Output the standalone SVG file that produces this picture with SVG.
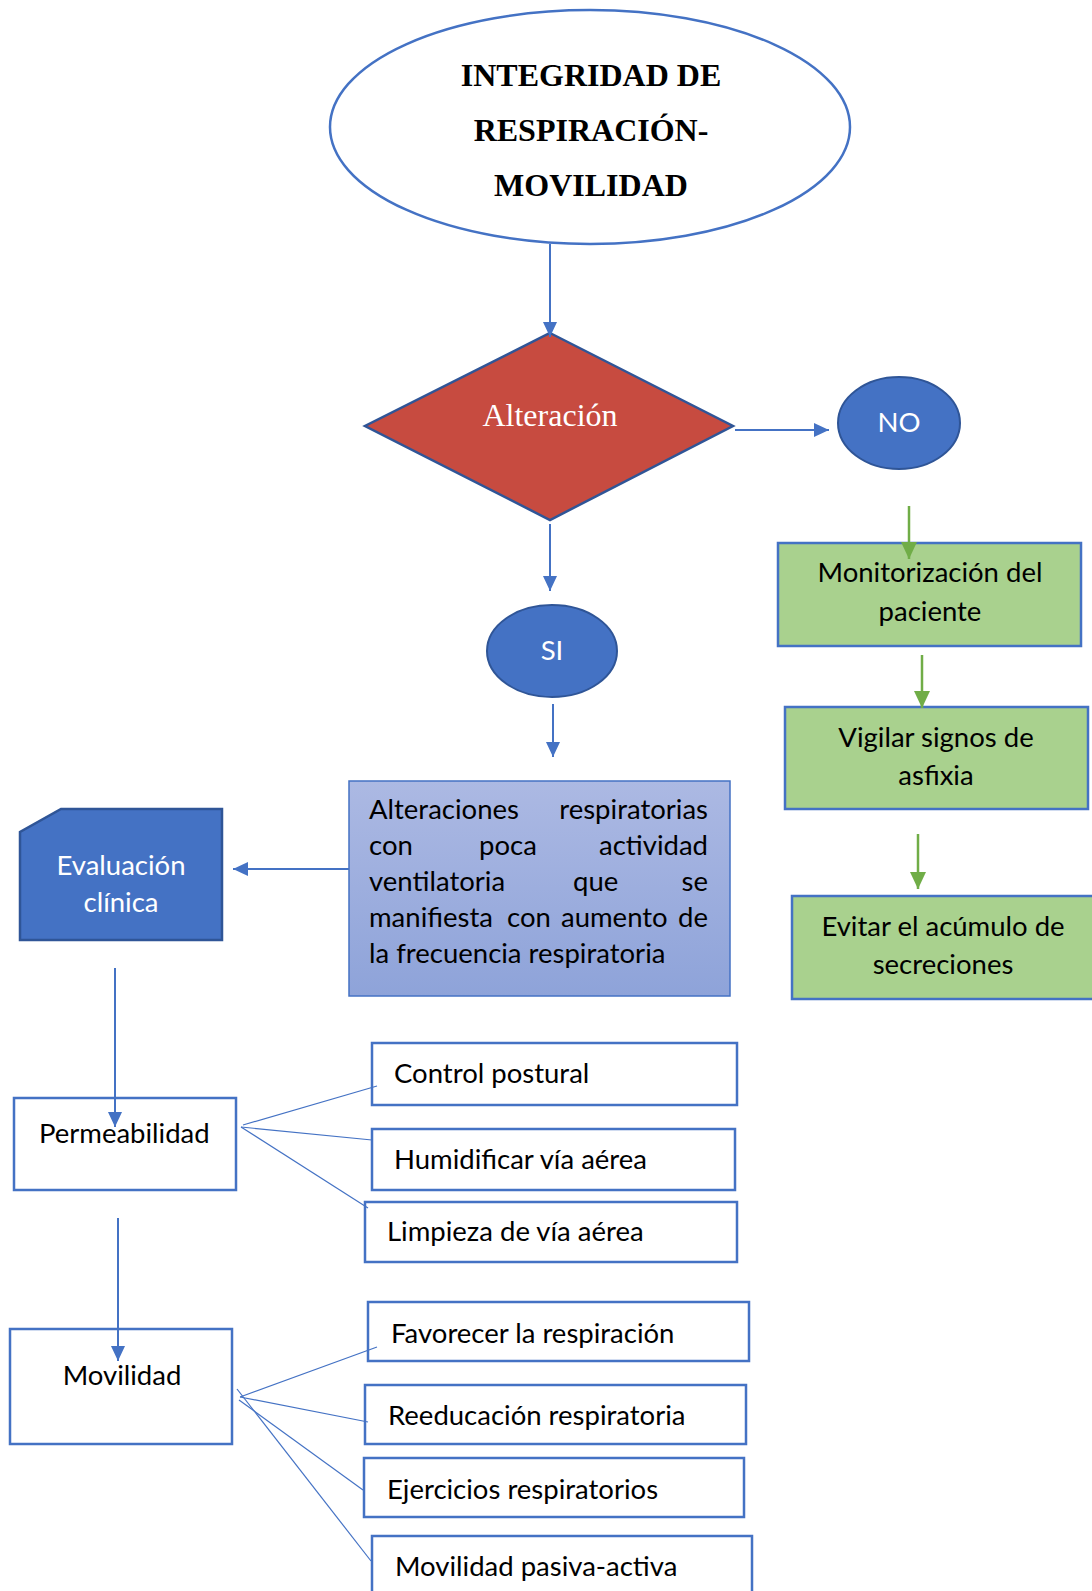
<svg xmlns="http://www.w3.org/2000/svg" width="1092" height="1591" viewBox="0 0 1092 1591">
<defs>
<style>
.t{font-family:Lato,"Liberation Sans",sans-serif;font-size:27.5px;fill:#000}
.w{font-family:Lato,"Liberation Sans",sans-serif;font-size:27.5px;fill:#fff}
.box{fill:#fff;stroke:#4472C4;stroke-width:2.5}
.gbox{fill:#A9D18E;stroke:#4472C4;stroke-width:2.5}
.arr{stroke:#4472C4;stroke-width:2;fill:none}
.garr{stroke:#70AD47;stroke-width:2.5;fill:none}
.fan{stroke:#4472C4;stroke-width:1.2;fill:none}
</style>
<marker id="ab" markerUnits="userSpaceOnUse" markerWidth="16" markerHeight="16" viewBox="0 0 16 16" refX="15" refY="8" orient="auto"><path d="M0,1 L15,8 L0,15 Z" fill="#4472C4"/></marker>
<marker id="ag" markerUnits="userSpaceOnUse" markerWidth="18" markerHeight="18" viewBox="0 0 18 18" refX="17" refY="9" orient="auto"><path d="M0,1 L17,9 L0,17 Z" fill="#70AD47"/></marker>
<linearGradient id="bg" x1="0" y1="0" x2="0" y2="1"><stop offset="0" stop-color="#ACB9E3"/><stop offset="1" stop-color="#8EA3D9"/></linearGradient>
</defs>
<rect width="1092" height="1591" fill="#fff"/>
<g id="title">
<ellipse cx="590" cy="127" rx="260" ry="117" fill="#fff" stroke="#4472C4" stroke-width="2.5"/>
<g font-family="'Liberation Serif',serif" font-weight="bold" font-size="32" text-anchor="middle">
<text x="591" y="86">INTEGRIDAD DE</text>
<text x="591" y="141">RESPIRACIÓN-</text>
<text x="591" y="196">MOVILIDAD</text>
</g>
</g>
<g id="alteracion">
<polygon points="550,333 733,426 550,520 365,426" fill="#C74B40" stroke="#2F5597" stroke-width="2.5"/>
<text x="550" y="426" font-family="'Liberation Serif',serif" font-size="32" fill="#fff" text-anchor="middle">Alteración</text>
</g>
<g id="no">
<ellipse cx="899" cy="423" rx="61" ry="46" fill="#4472C4" stroke="#2F5597" stroke-width="2"/>
<text class="w" x="899" y="432" text-anchor="middle">NO</text>
</g>
<g id="si">
<ellipse cx="552" cy="651" rx="65" ry="46" fill="#4472C4" stroke="#2F5597" stroke-width="2"/>
<text class="w" x="552" y="660" text-anchor="middle">SI</text>
</g>
<g id="alteraciones">
<rect x="349" y="781" width="381" height="215" fill="url(#bg)" stroke="#4472C4" stroke-width="1.5"/>
<text class="t" x="369" y="819">Alteraciones</text>
<text class="t" x="708" y="819" text-anchor="end">respiratorias</text>
<text class="t" x="369" y="855">con</text>
<text class="t" x="479" y="855">poca</text>
<text class="t" x="708" y="855" text-anchor="end">actividad</text>
<text class="t" x="369" y="891">ventilatoria</text>
<text class="t" x="573" y="891">que</text>
<text class="t" x="708" y="891" text-anchor="end">se</text>
<text class="t" x="369" y="927">manifiesta</text>
<text class="t" x="507" y="927">con</text>
<text class="t" x="561" y="927">aumento</text>
<text class="t" x="708" y="927" text-anchor="end">de</text>
<text class="t" x="369" y="963">la frecuencia respiratoria</text>
</g>
<g id="evaluacion">
<path d="M61,809 L222,809 L222,940 L20,940 L20,832 Z" fill="#4472C4" stroke="#2F5597" stroke-width="2.5"/>
<text class="w" x="121" y="875" text-anchor="middle">Evaluación</text>
<text class="w" x="121" y="912" text-anchor="middle">clínica</text>
</g>
<g id="monitorizacion">
<rect class="gbox" x="778" y="543" width="303" height="103"/>
<text class="t" x="930" y="582" text-anchor="middle">Monitorización del</text>
<text class="t" x="930" y="621" text-anchor="middle">paciente</text>
</g>
<g id="vigilar">
<rect class="gbox" x="785" y="707" width="303" height="102"/>
<text class="t" x="936" y="747" text-anchor="middle">Vigilar signos de</text>
<text class="t" x="936" y="785" text-anchor="middle">asfixia</text>
</g>
<g id="evitar">
<rect class="gbox" x="792" y="896" width="304" height="103"/>
<text class="t" x="943" y="936" text-anchor="middle">Evitar el acúmulo de</text>
<text class="t" x="943" y="974" text-anchor="middle">secreciones</text>
</g>
<g id="permeabilidad">
<rect class="box" x="14" y="1098" width="222" height="92"/>
<text class="t" x="39" y="1143">Permeabilidad</text>
</g>
<g id="movilidad">
<rect class="box" x="10" y="1329" width="222" height="115"/>
<text class="t" x="122" y="1385" text-anchor="middle">Movilidad</text>
</g>
<g id="control">
<rect class="box" x="372" y="1043" width="365" height="62"/>
<text class="t" x="394" y="1083">Control postural</text>
</g>
<g id="humidificar">
<rect class="box" x="372" y="1129" width="363" height="61"/>
<text class="t" x="394" y="1169">Humidificar vía aérea</text>
</g>
<g id="limpieza">
<rect class="box" x="365" y="1202" width="372" height="60"/>
<text class="t" x="387" y="1241">Limpieza de vía aérea</text>
</g>
<g id="favorecer">
<rect class="box" x="368" y="1302" width="381" height="59"/>
<text class="t" x="391" y="1343">Favorecer la respiración</text>
</g>
<g id="reeducacion">
<rect class="box" x="365" y="1385" width="381" height="59"/>
<text class="t" x="388" y="1425">Reeducación respiratoria</text>
</g>
<g id="ejercicios">
<rect class="box" x="364" y="1458" width="380" height="59"/>
<text class="t" x="387" y="1499">Ejercicios respiratorios</text>
</g>
<g id="pasiva">
<rect class="box" x="372" y="1536" width="380" height="70"/>
<text class="t" x="395" y="1576">Movilidad pasiva-activa</text>
</g>
<g id="connectors">
<line class="arr" x1="550" y1="244" x2="550" y2="337" marker-end="url(#ab)"/>
<line class="arr" x1="735" y1="430" x2="829" y2="430" marker-end="url(#ab)"/>
<line class="arr" x1="550" y1="524" x2="550" y2="591" marker-end="url(#ab)"/>
<line class="arr" x1="553" y1="704" x2="553" y2="757" marker-end="url(#ab)"/>
<line class="arr" x1="349" y1="869" x2="233" y2="869" marker-end="url(#ab)"/>
<line class="arr" x1="115" y1="968" x2="115" y2="1127" marker-end="url(#ab)"/>
<line class="arr" x1="118" y1="1218" x2="118" y2="1361" marker-end="url(#ab)"/>
<line class="garr" x1="909" y1="506" x2="909" y2="559" marker-end="url(#ag)"/>
<line class="garr" x1="922" y1="655" x2="922" y2="708" marker-end="url(#ag)"/>
<line class="garr" x1="918" y1="834" x2="918" y2="889" marker-end="url(#ag)"/>
<line class="fan" x1="243" y1="1125" x2="377" y2="1086"/>
<line class="fan" x1="241" y1="1127" x2="372" y2="1140"/>
<line class="fan" x1="241" y1="1127" x2="368" y2="1208"/>
<line class="fan" x1="240" y1="1397" x2="377" y2="1347"/>
<line class="fan" x1="240" y1="1397" x2="368" y2="1422"/>
<line class="fan" x1="239" y1="1400" x2="363" y2="1490"/>
<line class="fan" x1="237" y1="1389" x2="371" y2="1561"/>
</g>
</svg>
